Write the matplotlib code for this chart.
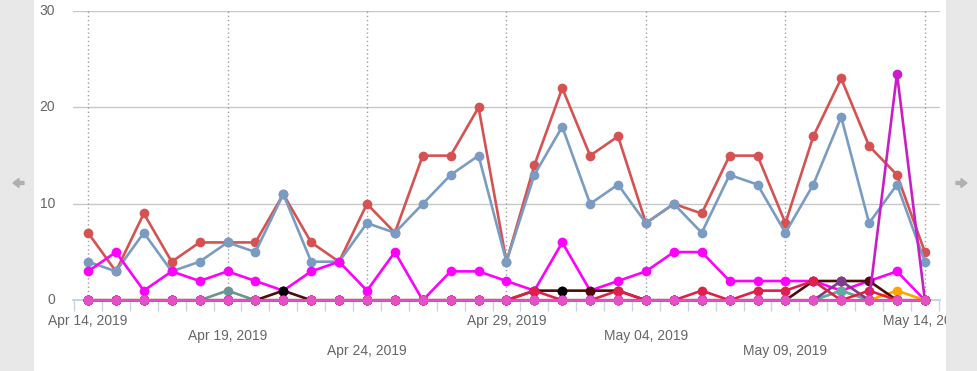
# -*- coding: utf-8 -*-
import matplotlib
matplotlib.use("Agg")
import matplotlib.pyplot as plt
from matplotlib.patches import Rectangle, FancyArrow
import numpy as np
import pandas as pd

plt.rcParams['font.family'] = ['Liberation Sans', 'DejaVu Sans']

dates = pd.date_range("2019-04-14", "2019-05-14", freq="D")
x = np.arange(len(dates))

def spikes(d):
    s = [0] * len(dates)
    for k, v in d.items():
        s[k] = v
    return s

red = [7, 3, 9, 4, 6, 6, 6, 11, 6, 4, 10, 7, 15, 15, 20, 4, 14, 22, 15, 17,
       8, 10, 9, 15, 15, 8, 17, 23, 16, 13, 5]
blue = [4, 3, 7, 3, 4, 6, 5, 11, 4, 4, 8, 7, 10, 13, 15, 4, 13, 18, 10, 12,
        8, 10, 7, 13, 12, 7, 12, 19, 8, 12, 4]
magenta = [3, 5, 1, 3, 2, 3, 2, 1, 3, 4, 1, 5, 0, 3, 3, 2, 1, 6, 1, 2,
           3, 5, 5, 2, 2, 2, 2, 1, 2, 3, 0]
slate = spikes({5: 1})
khaki = spikes({27: 1})
teal = spikes({27: 1})
orange = spikes({29: 1})
maroon = spikes({7: 1, 16: 1, 17: 1, 18: 1, 19: 1, 26: 2, 27: 2, 28: 2})
purple = spikes({27: 2})
black = spikes({7: 1, 17: 1})
crimson = spikes({16: 1, 19: 1, 22: 1, 24: 1, 25: 1, 26: 2, 28: 1})
orchid = spikes({29: 23.5})
pink = spikes({})

# (values, colour, draw line)
series = [
    (red, '#d65252', True),
    (blue, '#7a9cc2', True),
    (magenta, '#ff00ff', True),
    (slate, '#6b9494', True),
    (khaki, '#d8c878', True),
    (teal, '#5faaa2', True),
    (orange, '#ffa500', True),
    (maroon, '#4d0b0b', True),
    (purple, '#7d3c8c', True),
    (black, '#000000', False),
    (crimson, '#e0204c', True),
    (orchid, '#c81ec8', True),
    (pink, '#e650c6', True),
]

fig = plt.figure(figsize=(9.78, 3.71), dpi=100)
fig.patch.set_facecolor('white')
ax = fig.add_axes([0.0746, 0.1906, 0.8865, 0.7798])

for i, (vals, col, line) in enumerate(series):
    if line:
        ax.plot(x, vals, color=col, lw=1.9, marker='o', markersize=7,
                markeredgewidth=0, zorder=3 + i * 0.1, clip_on=False)
    else:
        vv = np.array(vals, dtype=float)
        m = vv > 0
        ax.plot(x[m], vv[m], color=col, ls='none', marker='o', markersize=7,
                markeredgewidth=0, zorder=3 + i * 0.1, clip_on=False)

ax.set_xlim(-0.54, 30.54)
ax.set_ylim(0, 30)

# grid
for yv in [10, 20, 30]:
    ax.axhline(yv, color='#c8c8c8', lw=1, zorder=1)
major = list(range(0, 31, 5))
for xv in major:
    ax.plot([xv, xv], [0, 30], color='#a0a0a0', lw=1, ls=(0, (1, 2)), zorder=1)

for s in ['top', 'right', 'left']:
    ax.spines[s].set_visible(False)
ax.spines['bottom'].set_color('#c8d4e0')
ax.spines['bottom'].set_linewidth(1.5)

ax.set_xticks(np.arange(-0.5, 31, 1.0))
ax.set_xticklabels([])
ax.tick_params(axis='x', direction='out', length=8, width=1, color='#c8d4e0')
ax.set_yticks([])

for yv in [0, 10, 20, 30]:
    ax.annotate(str(yv), xy=(0, yv), xycoords=('axes fraction', 'data'),
                xytext=(-13, 0), textcoords='offset points', ha='right',
                va='center', fontsize=10, color='#666666')

offsets = [-15, -25.7, -36.5]
for j, xv in enumerate(major):
    lbl = dates[xv].strftime('%b %d, %Y')
    ax.annotate(lbl, xy=(xv, 0), xycoords=('data', 'axes fraction'),
                xytext=(0, offsets[j % 3]), textcoords='offset points',
                ha='center', va='center', fontsize=10, color='#666666',
                annotation_clip=False)

# side panels with arrows
fig.patches.append(Rectangle((0, 0), 34 / 978, 1, transform=fig.transFigure,
                             facecolor='#e8e8e8', edgecolor='none', zorder=5))
fig.patches.append(Rectangle((946 / 978, 0), 32 / 978, 1, transform=fig.transFigure,
                             facecolor='#e8e8e8', edgecolor='none', zorder=5))
fig.patches.append(FancyArrow(0.24, 1.88, -0.11, 0, width=0.03, head_width=0.09,
                              head_length=0.06, length_includes_head=True,
                              transform=fig.dpi_scale_trans, color='#b0b0b0',
                              zorder=6))
fig.patches.append(FancyArrow(9.56, 1.88, 0.11, 0, width=0.03, head_width=0.09,
                              head_length=0.06, length_includes_head=True,
                              transform=fig.dpi_scale_trans, color='#b0b0b0',
                              zorder=6))

plt.savefig('out.png', dpi=100)
plt.close(fig)
